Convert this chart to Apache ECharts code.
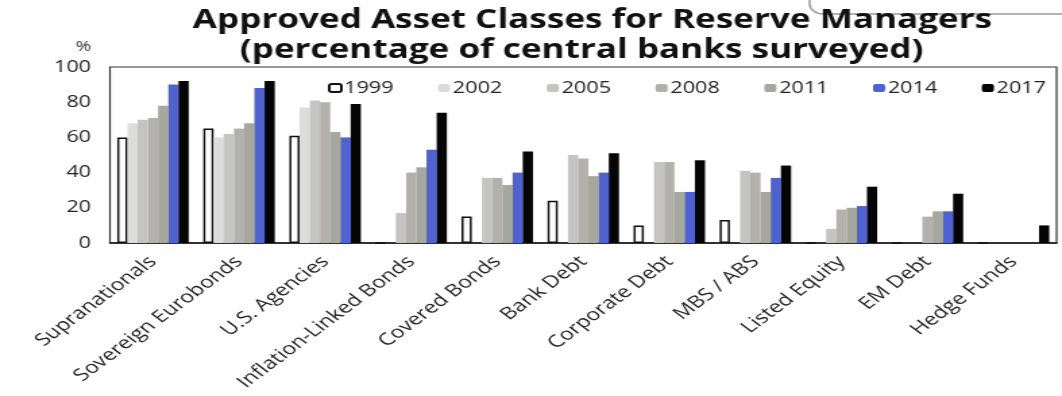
<!DOCTYPE html>
<html>
<head>
<meta charset="utf-8">
<script src="https://cdn.jsdelivr.net/npm/echarts@6/dist/echarts.min.js"></script>
<style>
  html, body { margin: 0; padding: 0; background: #fff; overflow: hidden; }
  #wrap { width: 1062px; height: 396px; overflow: hidden; }
  /* the chart is laid out narrow and widened to the page width */
  #chart { width: 787px; height: 396px; transform: scaleX(1.3494); transform-origin: 0 0; }
</style>
</head>
<body>
<div id="wrap"><div id="chart"></div></div>
<script>
// Asset classes approved by central bank reserve managers, % of respondents
const categories = [
  'Supranationals', 'Sovereign Eurobonds', 'U.S. Agencies', 'Inflation-Linked Bonds',
  'Covered Bonds', 'Bank Debt', 'Corporate Debt', 'MBS / ABS',
  'Listed Equity', 'EM Debt', 'Hedge Funds'
];
const years = ['1999', '2002', '2005', '2008', '2011', '2014', '2017'];

const y1999 = [60, 65, 61, 0, 15, 24, 10, 13, 0, 0, 0];
const y2002 = [68, 60, 77, 0, 0, 0, 0, 0, 0, 0, 0];
const y2005 = [70, 62, 81, 17, 37, 50, 46, 41, 8, 0, 0];
const y2008 = [71, 65, 80, 40, 37, 48, 46, 40, 19, 15, 0];
const y2011 = [78, 68, 63, 43, 33, 38, 29, 29, 20, 18, 0];
const y2014 = [90, 88, 60, 53, 40, 40, 29, 37, 21, 18, 0];
const y2017 = [92, 92, 79, 74, 52, 51, 47, 44, 32, 28, 10];

const yTicks = [0, 20, 40, 60, 80, 100];

const seriesValues = [y1999, y2002, y2005, y2008, y2011, y2014, y2017];
const fills = ['#ffffff', '#dcdcda', '#c4c4c2', '#b4b0ab', '#a5a89c', '#5062d0', '#050505'];

const chart = echarts.init(document.getElementById('chart'));

const series = years.map((yr, i) => ({
  name: yr,
  type: 'bar',
  data: seriesValues[i],
  barGap: '0%',
  barCategoryGap: '17%',
  itemStyle: i === 0
    ? { color: fills[i], borderColor: '#111', borderWidth: 1.5 }
    : { color: fills[i] }
}));

chart.setOption({
  animation: false,
  backgroundColor: '#ffffff',
  textStyle: { fontFamily: 'Open Sans' },
  title: [
    {
      text: 'Approved Asset Classes for Reserve Managers',
      left: 434, top: 3, textAlign: 'center',
      textStyle: { fontFamily: 'Open Sans', fontWeight: 'bold', fontSize: 26, color: '#111' }
    },
    {
      text: '(percentage of central banks surveyed)',
      left: 426, top: 33, textAlign: 'center',
      textStyle: { fontFamily: 'Open Sans', fontWeight: 'bold', fontSize: 26, color: '#111' }
    },
    {
      text: '%',
      left: 51, top: 35,
      textStyle: { fontFamily: 'Open Sans', fontWeight: 'normal', fontSize: 14, color: '#333' }
    }
  ],
  graphic: [
    {
      type: 'rect',
      shape: { x: 600, y: -30, width: 300, height: 44, r: 10 },
      style: { fill: 'none', stroke: '#9a9a9a', lineWidth: 1.5 }
    }
  ],
  legend: {
    data: years,
    left: 238, top: 75, width: 600,
    itemWidth: 9, itemHeight: 8,
    itemGap: 33,
    textStyle: { fontFamily: 'Open Sans', fontSize: 16, color: '#222', padding: [0, 0, 0, -3] }
  },
  grid: {
    left: 81.5, right: 4, top: 67, bottom: 153,
    show: true, borderColor: '#333', borderWidth: 1.2
  },
  xAxis: {
    type: 'category',
    data: categories,
    axisTick: { show: false },
    axisLine: { lineStyle: { color: '#111', width: 1.5 } },
    axisLabel: {
      interval: 0, rotate: 45, margin: 16,
      fontFamily: 'Open Sans', fontSize: 17, color: '#222'
    }
  },
  yAxis: {
    type: 'value',
    min: yTicks[0], max: yTicks[yTicks.length - 1], interval: 20,
    splitLine: { show: false },
    axisLine: { show: false },
    axisTick: { show: false },
    axisLabel: { margin: 14, fontFamily: 'Open Sans', fontSize: 16, color: '#222' }
  },
  series: series
});
</script>
</body>
</html>
